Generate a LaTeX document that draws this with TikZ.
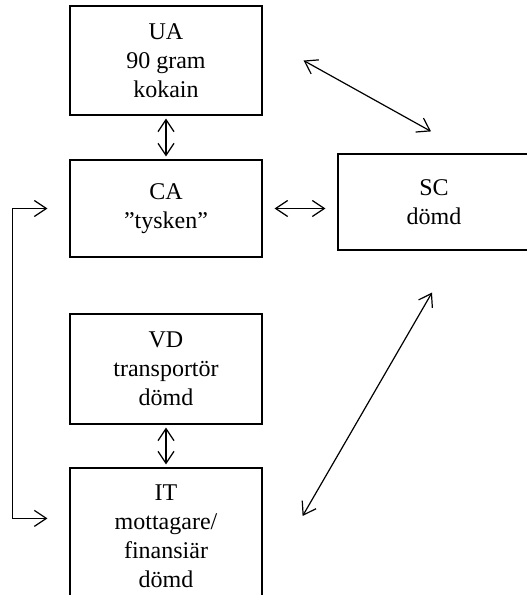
\documentclass[tikz,border=0pt]{standalone}
\usepackage{fontspec}
\setmainfont{Liberation Serif}
\usetikzlibrary{arrows.meta,positioning}
\begin{document}
\begin{tikzpicture}
[x=1pt,y=-1pt,
>={Straight Barb[length=12pt,width=16pt]},
box/.style={draw,line width=1.2pt,align=center,minimum width=192pt,
  inner sep=0pt,font=\fontsize{24}{29}\selectfont},
link/.style={<->,line width=1.2pt},
near/.style={shorten <=3pt,shorten >=3pt}]
\clip (0,0) rectangle (527,595);

\node (UA) [box,minimum height=109pt] at (166,60.5) {UA\\90 gram\\kokain};
\node (CA) [box,minimum height=97pt] at (166,208.5) {CA\\”tysken”};
\node (SC) [box,minimum height=96pt] at (434,202) {SC\\dömd};
\node (VD) [box,minimum height=110pt] at (166,369) {VD\\transportör\\dömd};
\node (IT) [box,minimum height=136pt] at (166,536)
      {IT\\mottagare/\\finansiär\\dömd};

\draw [link,near] (UA) -- (CA);
\draw [link,near] (VD) -- (IT);
\draw [link,shorten <=12pt,shorten >=12pt] (CA.east) -- (CA.east -| SC.west);

% diagonals
\coordinate [right=41pt of UA.east] (uasc1);
\coordinate [above left=22pt and 3pt of SC.north] (uasc2);
\draw [link] (uasc1) -- (uasc2);
\coordinate [below left=42pt and 2pt of SC.south] (itsc1);
\coordinate [above right=20pt and 40pt of IT.east] (itsc2);
\draw [link] (itsc1) -- (itsc2);

% left bracket
\coordinate [left=22pt of CA.west] (caleft);
\coordinate [below left=51pt and 22pt of IT.north west] (itleft);
\draw [link] (caleft) -- ++(-35,0) |- (itleft);
\end{tikzpicture}
\end{document}
